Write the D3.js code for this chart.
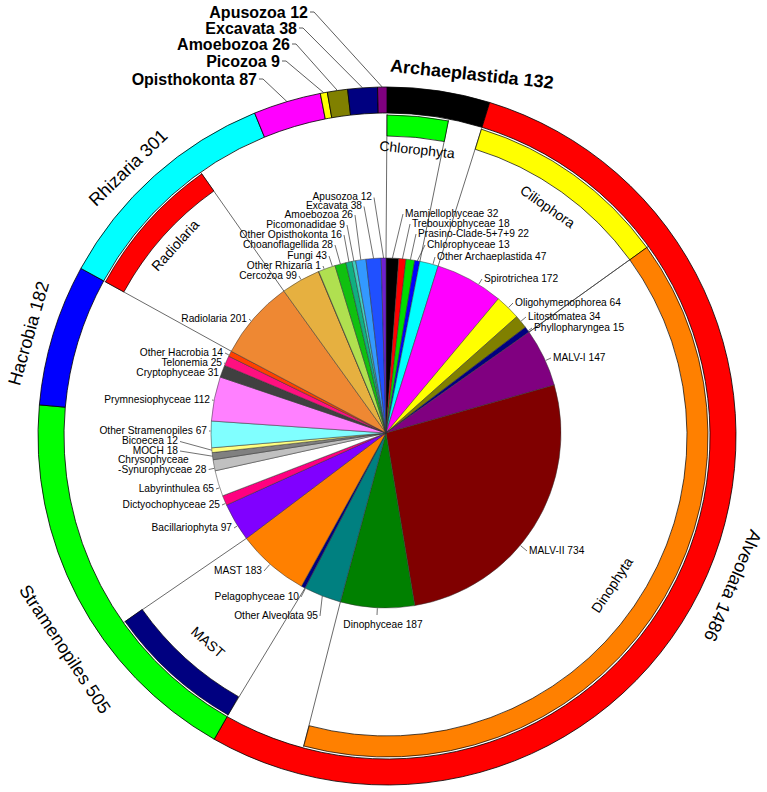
<!DOCTYPE html>
<html>
<head>
<meta charset="utf-8">
<script src="https://cdn.jsdelivr.net/npm/d3@7"></script>
<style>
  body { margin: 0; background: #fff; }
  text { font-family: Arial, "Liberation Sans", sans-serif; fill: #000; }
</style>
</head>
<body>
<svg width="767" height="792"></svg>
<script>
// ---- outer ring: major groups
var groups      = ["Archaeplastida","Alveolata","Stramenopiles","Hacrobia","Rhizaria","Opisthokonta","Picozoa","Amoebozoa","Excavata","Apusozoa"];
var groupVals   = [132, 1486, 505, 182, 301, 87, 9, 26, 38, 12];
var groupColors = ["#000000","#ff0000","#00ff00","#0000ff","#00ffff","#ff00ff","#ffff00","#808000","#000080","#800080"];

// ---- pie: sub groups
var subs = ["Mamiellophyceae","Trebouxiophyceae","Prasino-Clade-5+7+9","Chlorophyceae","Other Archaeplastida",
            "Spirotrichea","Oligohymenophorea","Litostomatea","Phyllopharyngea","MALV-I","MALV-II","Dinophyceae","Other Alveolata",
            "Pelagophyceae","MAST","Bacillariophyta","Dictyochophyceae","Labyrinthulea","Chrysophyceae-Synurophyceae","MOCH","Bicoecea","Other Stramenopiles",
            "Prymnesiophyceae","Cryptophyceae","Telonemia","Other Hacrobia",
            "Radiolaria","Cercozoa","Other Rhizaria",
            "Fungi","Choanoflagellida","Other Opisthokonta",
            "Picomonadidae","Amoebozoa","Excavata","Apusozoa"];
var subVals = [32, 18, 22, 13, 47,
               172, 64, 34, 15, 147, 734, 187, 95,
               10, 183, 97, 25, 65, 28, 18, 12, 67,
               112, 31, 25, 14,
               201, 99, 1,
               43, 28, 16,
               9, 26, 38, 12];
var subColors = ["#000000","#ff0000","#00dd00","#0000ff","#00ffff",
                 "#ff00ff","#ffff00","#808000","#000080","#800080","#800000","#008000","#008080",
                 "#000080","#ff8000","#8000ff","#ff0080","#ffffff","#c0c0c0","#808080","#ffff80","#80ffff",
                 "#ff80ff","#404040","#ff1080","#ff4000",
                 "#ee8833","#e6b040","#ff8040",
                 "#b0e050","#10c010","#10b080",
                 "#40d0c0","#3399ff","#2050ff","#7020d0"];

// ---- inner ring: clades (value in ring units, offset inside parent group)
var clades       = ["Chlorophyta","Ciliophora","Dinophyta","MAST","Radiolaria"];
var cladeParent  = ["Archaeplastida","Alveolata","Alveolata","Stramenopiles","Rhizaria"];
var cladeOffset  = [0, 0, 285, 0, 0];
var cladeVals    = [85, 285, 1088, 193, 201];
var cladeFirst   = ["Mamiellophyceae","Spirotrichea","MALV-I","Pelagophyceae","Radiolaria"];
var cladeLast    = ["Chlorophyceae","Phyllopharyngea","Dinophyceae","MAST","Radiolaria"];
var cladeColors  = ["#00ff00","#ffff00","#ff8000","#000080","#ff0000"];

// ---- layout
var RING = {cx: 387, cy: 436, r0: 323, r1: 349, in0: 300, in1: 321};
var PIE  = {cx: 386, cy: 433, r: 175};

// ring labels: angle of text centre (deg, clockwise from top), radius of text centre, flip for bottom half
var groupLabelAt = {
  "Archaeplastida": {a: 13.2, r: 372, rot: 6, bold: true},
  "Alveolata":      {a: 113.4, r: 377},
  "Stramenopiles":  {a: 236.5, r: 386, flip: true},
  "Hacrobia":       {a: 286, r: 373},
  "Rhizaria":       {a: 316, r: 373},
  "Opisthokonta":   {x: 257, y: 85},
  "Picozoa":        {x: 280, y: 67},
  "Amoebozoa":      {x: 290, y: 50},
  "Excavata":       {x: 297, y: 34},
  "Apusozoa":       {x: 308, y: 18}
};
var cladeLabelAt = {
  "Chlorophyta": {a: 6,     r: 288},
  "Ciliophora":  {a: 35,    r: 280},
  "Dinophyta":   {a: 123.5, r: 270, flip: true},
  "MAST":        {a: 221,   r: 273, flip: true},
  "Radiolaria":  {a: 312,   r: 285}
};
// pie labels: x, y (middle of text), anchor
var subLabelAt = {
  "Mamiellophyceae": [405, 213, "start"], "Trebouxiophyceae": [412, 223, "start"],
  "Prasino-Clade-5+7+9": [418, 233, "start"], "Chlorophyceae": [427, 244, "start"],
  "Other Archaeplastida": [437, 256, "start"], "Spirotrichea": [484, 278, "start"],
  "Oligohymenophorea": [515, 302, "start"], "Litostomatea": [528, 316, "start"],
  "Phyllopharyngea": [534, 327, "start"], "MALV-I": [553, 357, "start"],
  "MALV-II": [529, 550, "start"], "Dinophyceae": [383, 624, "middle"],
  "Other Alveolata": [318, 615, "end"], "Pelagophyceae": [299, 596, "end"],
  "MAST": [262, 570, "end"], "Bacillariophyta": [232, 527, "end"],
  "Dictyochophyceae": [220, 504, "end"], "Labyrinthulea": [214, 488, "end"],
  "Chrysophyceae-Synurophyceae": [118, 459, "start2"], "MOCH": [178, 450, "end"],
  "Bicoecea": [178, 440.5, "end"], "Other Stramenopiles": [207, 430, "end"],
  "Prymnesiophyceae": [210, 399, "end"], "Cryptophyceae": [219, 372, "end"],
  "Telonemia": [222, 362, "end"], "Other Hacrobia": [223, 352, "end"],
  "Radiolaria": [247, 318, "end"], "Cercozoa": [297, 275, "end"],
  "Other Rhizaria": [321, 265, "end"], "Fungi": [327, 255, "end"],
  "Choanoflagellida": [333, 244, "end"], "Other Opisthokonta": [342, 234, "end"],
  "Picomonadidae": [345, 224, "end"], "Amoebozoa": [353, 214, "end"],
  "Excavata": [362, 205.5, "end"], "Apusozoa": [372, 196.5, "end"]
};

var svg = d3.select("svg");
var rad = Math.PI / 180;

var ringAng = d3.scaleLinear().domain([0, d3.sum(groupVals)]).range([0, 2 * Math.PI]);
var pieAng  = d3.scaleLinear().domain([0, d3.sum(subVals)]).range([0, 2 * Math.PI]);

var groupStart = {}, acc = 0;
groups.forEach(function(g, i) { groupStart[g] = acc; acc += groupVals[i]; });
var subStart = {}; acc = 0;
subs.forEach(function(s, i) { subStart[s] = acc; acc += subVals[i]; });

function pt(c, r, a) { return [c.cx + r * Math.sin(a), c.cy - r * Math.cos(a)]; }

// ---- connectors between clade arcs and pie
var conn = [];
clades.forEach(function(c, i) {
  var s = groupStart[cladeParent[i]] + cladeOffset[i];
  var e = s + cladeVals[i];
  var ps = subStart[cladeFirst[i]];
  var pe = subStart[cladeLast[i]] + subVals[subs.indexOf(cladeLast[i])];
  conn.push([s, ps], [e, pe]);
});
svg.append("g").selectAll("line").data(conn).enter().append("line")
  .attr("x1", d => pt(RING, RING.r0 - 1, ringAng(d[0]))[0])
  .attr("y1", d => pt(RING, RING.r0 - 1, ringAng(d[0]))[1])
  .attr("x2", d => pt(PIE, PIE.r, pieAng(d[1]))[0])
  .attr("y2", d => pt(PIE, PIE.r, pieAng(d[1]))[1])
  .attr("stroke", "#444").attr("stroke-width", 0.8);

// ---- outer ring
var ringArc = d3.arc().innerRadius(RING.r0).outerRadius(RING.r1)
  .startAngle(d => ringAng(d.s)).endAngle(d => ringAng(d.e));
svg.append("g").attr("transform", "translate(" + RING.cx + "," + RING.cy + ")")
  .selectAll("path").data(groups.map((g, i) => ({s: groupStart[g], e: groupStart[g] + groupVals[i], c: groupColors[i]})))
  .enter().append("path").attr("d", ringArc)
  .attr("fill", d => d.c).attr("stroke", "#000").attr("stroke-width", 0.8);

// ---- clade arcs
var cladeArc = d3.arc().innerRadius(RING.in0).outerRadius(RING.in1)
  .startAngle(d => ringAng(d.s)).endAngle(d => ringAng(d.e));
svg.append("g").attr("transform", "translate(" + RING.cx + "," + RING.cy + ")")
  .selectAll("path").data(clades.map(function(c, i) {
    var s = groupStart[cladeParent[i]] + cladeOffset[i];
    return {s: s, e: s + cladeVals[i], c: cladeColors[i]};
  }))
  .enter().append("path").attr("d", cladeArc)
  .attr("fill", d => d.c).attr("stroke", "#000").attr("stroke-width", 0.7);

// ---- pie
var slices = d3.pie().sort(null).value(d => d)(subVals);
var pieArc = d3.arc().innerRadius(0).outerRadius(PIE.r);
svg.append("g").attr("transform", "translate(" + PIE.cx + "," + PIE.cy + ")")
  .selectAll("path").data(slices).enter().append("path")
  .attr("d", pieArc).attr("fill", (d, i) => subColors[i])
  .attr("stroke", "#333").attr("stroke-width", 0.5);

// ---- rotated text around the ring
function ringText(spec, txt, size) {
  var p = pt(RING, spec.r, spec.a * rad);
  var rot = spec.rot !== undefined ? spec.rot : (spec.flip ? spec.a - 180 : spec.a);
  svg.append("text")
    .attr("transform", "translate(" + p + ") rotate(" + rot + ")")
    .attr("text-anchor", "middle").attr("dy", "0.35em")
    .attr("font-size", size).attr("font-weight", spec.bold ? "bold" : null)
    .text(txt);
}

groups.forEach(function(g, i) {
  var L = groupLabelAt[g], txt = g + " " + groupVals[i];
  if (L.a !== undefined) { ringText(L, txt, 18); return; }
  svg.append("text").attr("x", L.x).attr("y", L.y).attr("text-anchor", "end")
    .attr("font-size", 16).attr("font-weight", "bold").text(txt);
  var mid = ringAng(groupStart[g] + groupVals[i] / 2);
  var tp = pt(RING, RING.r1, mid);
  svg.append("path")
    .attr("d", "M" + (L.x + 2) + "," + (L.y - 6) + "L" + (L.x + 6) + "," + (L.y - 6) + "L" + tp)
    .attr("fill", "none").attr("stroke", "#333").attr("stroke-width", 0.8);
});

clades.forEach(function(c) { ringText(cladeLabelAt[c], c, 14); });

// ---- pie labels and leaders
subs.forEach(function(s, i) {
  var L = subLabelAt[s], x = L[0], y = L[1], anchor = L[2], hook;
  var t = svg.append("text").attr("font-size", 10.2);
  if (anchor === "start2") {
    var parts = s.split("-");
    t.attr("text-anchor", "start");
    t.append("tspan").attr("x", x).attr("y", y + 3.6).text(parts[0]);
    t.append("tspan").attr("x", x).attr("y", y + 14.1).text("-" + parts[1] + " " + subVals[i]);
    var bb = t.node().getBBox();
    hook = [bb.x + bb.width + 2, y + 10.5];
  } else {
    t.attr("x", x).attr("y", y + 3.6).attr("text-anchor", anchor).text(s + " " + subVals[i]);
    if (anchor === "start") hook = [x - 2, y + 1];
    else if (anchor === "end") hook = [x + 2, y + 1];
    else hook = [x - 6, y - 9];
  }
  var dx = hook[0] - PIE.cx, dy = hook[1] - PIE.cy, dist = Math.sqrt(dx * dx + dy * dy);
  var tgt;
  if (dist - PIE.r < 14) {
    tgt = [PIE.cx + dx * (PIE.r + 0.5) / dist, PIE.cy + dy * (PIE.r + 0.5) / dist];
  } else {
    tgt = pt(PIE, PIE.r, pieAng(subStart[s] + subVals[i] / 2));
  }
  svg.append("path").attr("d", "M" + hook + "L" + tgt)
    .attr("fill", "none").attr("stroke", "#333").attr("stroke-width", 0.7);
});
</script>
</body>
</html>
